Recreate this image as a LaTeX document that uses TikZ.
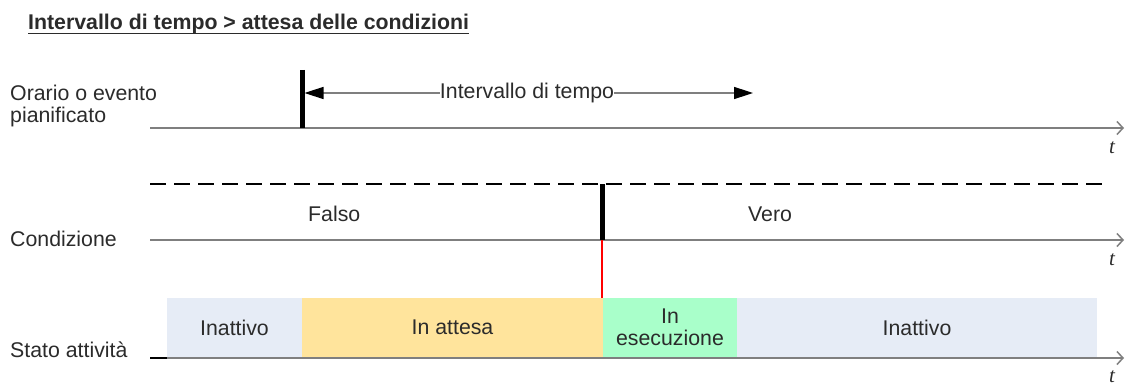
\documentclass[tikz,border=0pt]{standalone}
\usepackage{fontspec}
\setmainfont{Liberation Sans}
\newfontfamily\tfont{Liberation Serif}
\usetikzlibrary{arrows.meta}
\definecolor{axisgray}{HTML}{7F7F7F}
\definecolor{txt}{HTML}{2B2B2B}
\definecolor{bblue}{HTML}{E6ECF6}
\definecolor{byellow}{HTML}{FFE49C}
\definecolor{bgreen}{HTML}{A9FFCA}
\begin{document}
\begin{tikzpicture}[x=1pt,y=-1pt,
  lbl/.style={font=\fontsize{21.3}{22}\selectfont, text=txt, inner sep=0pt},
  tlbl/.style={font=\fontsize{21}{22}\selectfont\tfont\itshape, text=txt, inner sep=0pt, anchor=base},
  axis/.style={line width=2.5pt, draw=axisgray, -{Straight Barb[length=6pt,width=13pt,line width=1.5pt]}},
  dashln/.style={line width=2pt, draw=black, dash pattern=on 16pt off 8pt},
  bar/.style={line width=5pt, draw=black},
  ivarrow/.style={line width=1.5pt, draw=axisgray, -{Triangle[length=19pt,width=12pt,fill=black,color=black]}},
  box/.style={draw=none, inner sep=0pt, minimum height=59pt, lbl, align=center},
]
\useasboundingbox (0,0) rectangle (1126,385);
\fill[white] (0,0) rectangle (1126,385);

% title
\node[lbl, font=\fontsize{21.3}{22}\selectfont\bfseries, anchor=base west] (title) at (28,30) {Intervallo di tempo > attesa delle condizioni};
\draw[line width=1.3pt, txt] ([yshift=-3.5pt]title.base west) -- ([yshift=-3.5pt]title.base east);

% row labels
\node[lbl, anchor=base west, align=left] (r1) at (10,123) {Orario o evento\\pianificato};
\node[lbl, anchor=base west] (r2) at (10,246) {Condizione};
\node[lbl, anchor=base west] (r3) at (10,357) {Stato attività};

% boxes
\node[box, fill=bblue, minimum width=135pt] (s1) at (234.5,327.5) {Inattivo};
\node[box, fill=byellow, minimum width=301pt] (s2) at (452.5,327.5) {In attesa};
\node[box, fill=bgreen, minimum width=134pt] (s3) at (670,327.5) {In\\esecuzione};
\node[box, fill=bblue, minimum width=360pt] (s4) at (917,327.5) {Inattivo};

% axes
\coordinate (a1s) at (150,128); \coordinate (a1e) at (1124,128);
\coordinate (a2s) at (150,240); \coordinate (a2e) at (1124,240);
\coordinate (a3s) at (150,358); \coordinate (a3e) at (1124,358);
\draw[axis] (a1s) -- (a1e);
\draw[axis] (a2s) -- (a2e);
\draw[axis] (a3s) -- (a3e);
\draw[line width=2.5pt, black] (a3s) -- (s1.south west |- a3s);
\node[tlbl] (t1) at (1112,153) {t};
\node[tlbl] (t2) at (1112,265) {t};
\node[tlbl] (t3) at (1112,382) {t};

% dashed condition line
\coordinate (d1) at (150,184); \coordinate (d2) at (1104,184);
\draw[dashln] (d1) -- (d2);

% event bar and interval arrows
\coordinate (e1top) at (302,70); \coordinate (e1bot) at (302,128);
\draw[bar] (e1top) -- (e1bot);
\node[lbl] (iv) at (527,93) {Intervallo di tempo};
\coordinate (ivl) at (304.5,93); \coordinate (ivr) at (753,93);
\draw[ivarrow] (iv.west) -- (ivl);
\draw[ivarrow] (iv.east) -- (ivr);

% condition
\node[lbl, anchor=base west] (falso) at (308,221) {Falso};
\node[lbl, anchor=base west] (vero) at (748,221) {Vero};
\coordinate (c1top) at (602,184); \coordinate (c1bot) at (602,240);
\draw[bar] (c1top) -- (c1bot);
\draw[red, line width=1.2pt] (c1bot) -- (c1bot |- s3.north);
\end{tikzpicture}
\end{document}
